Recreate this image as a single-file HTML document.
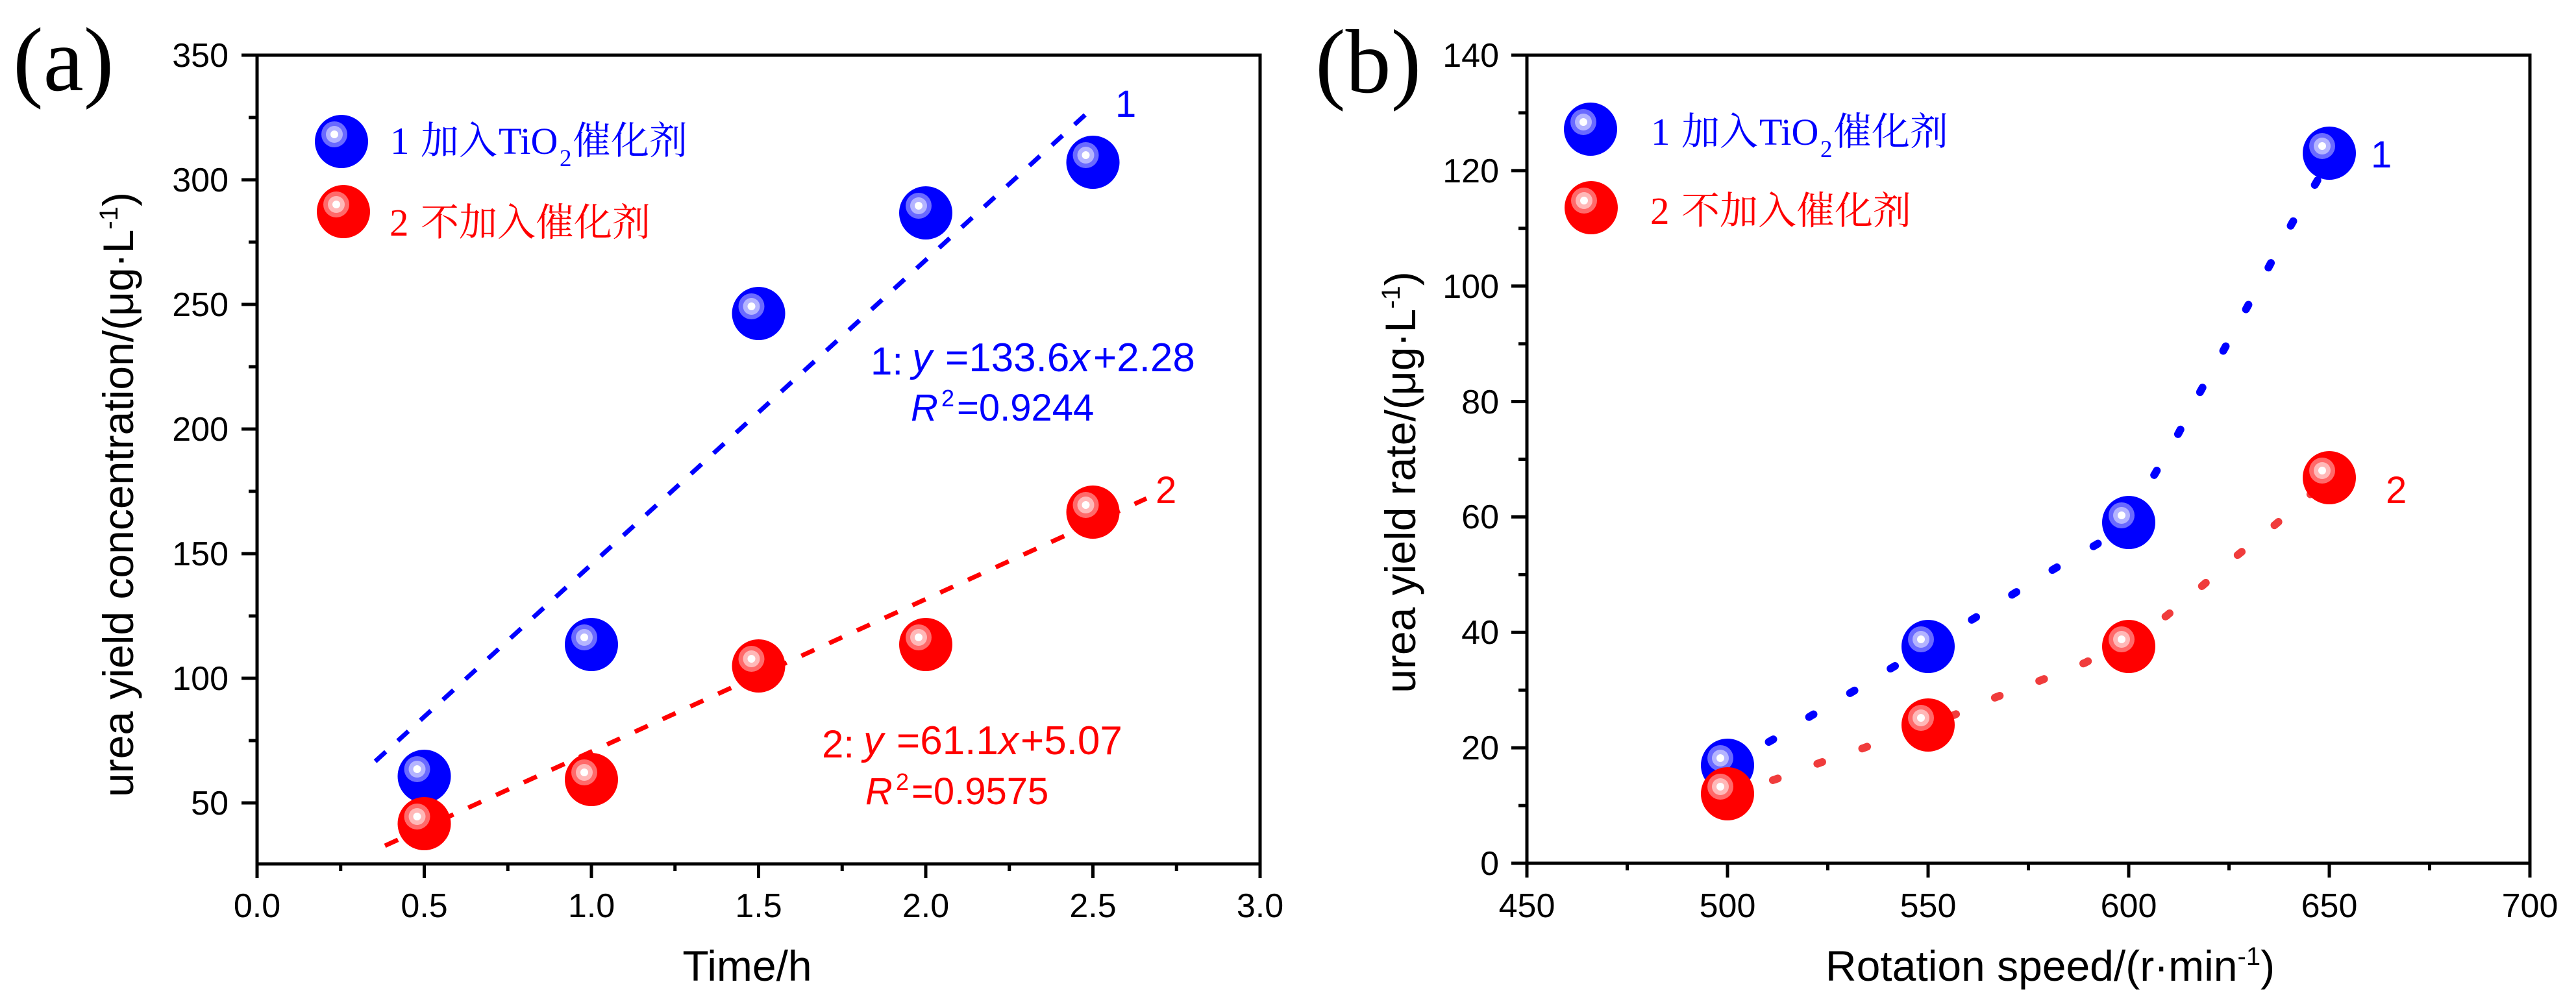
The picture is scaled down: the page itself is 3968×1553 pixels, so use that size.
<!DOCTYPE html>
<html><head><meta charset="utf-8"><style>
html,body{margin:0;padding:0;background:#fff;}
svg{display:block;}
text{font-family:"Liberation Sans",Arial,sans-serif;}
.tk{font-size:52px;fill:#000;}
.ser{font-family:"Liberation Serif","Noto Serif CJK SC",serif;}
.cjk{font-family:"Liberation Serif","Noto Serif CJK SC","Noto Sans CJK SC",serif;}
</style></head><body>
<svg width="3968" height="1553" viewBox="0 0 3968 1553" xmlns="http://www.w3.org/2000/svg">
<defs>
<g id="sb">
<circle r="41" fill="#0000ff"/>
<circle cx="-11" cy="-11" r="20" fill="#6a6aff"/>
<circle cx="-11" cy="-11" r="13" fill="#b4b4ff"/>
<circle cx="-11" cy="-11" r="6" fill="#ffffff"/>
</g>
<g id="sr">
<circle r="41" fill="#ff0000"/>
<circle cx="-11" cy="-11" r="20" fill="#ff6a6a"/>
<circle cx="-11" cy="-11" r="13" fill="#ffb8b8"/>
<circle cx="-11" cy="-11" r="6" fill="#ffffff"/>
</g>
</defs>
<rect width="3968" height="1553" fill="#fff"/>

<!-- ================= Panel (a) ================= -->
<text x="20" y="139" class="ser" font-size="140">(a)</text>

<g stroke="#000" stroke-width="5" fill="none">
<rect x="396" y="85" width="1545" height="1246"/>
<path d="M372 85H396M372 277H396M372 469H396M372 661H396M372 853H396M372 1045H396M372 1237H396"/>
<path d="M383 181H396M383 373H396M383 565H396M383 757H396M383 949H396M383 1141H396"/>
<path d="M396 1331V1353M653.5 1331V1353M911 1331V1353M1168.5 1331V1353M1426 1331V1353M1683.5 1331V1353M1941 1331V1353"/>
<path d="M524.75 1331V1342M782.25 1331V1342M1039.75 1331V1342M1297.25 1331V1342M1554.75 1331V1342M1812.25 1331V1342"/>
</g>

<g class="tk" text-anchor="end">
<text x="352" y="103">350</text>
<text x="352" y="295">300</text>
<text x="352" y="487">250</text>
<text x="352" y="679">200</text>
<text x="352" y="871">150</text>
<text x="352" y="1063">100</text>
<text x="352" y="1255">50</text>
</g>
<g class="tk" text-anchor="middle">
<text x="396" y="1413">0.0</text>
<text x="653.5" y="1413">0.5</text>
<text x="911" y="1413">1.0</text>
<text x="1168.5" y="1413">1.5</text>
<text x="1426" y="1413">2.0</text>
<text x="1683.5" y="1413">2.5</text>
<text x="1941" y="1413">3.0</text>
</g>

<text transform="translate(205,762) rotate(-90)" text-anchor="middle" font-size="66">urea yield concentration/(μg·L<tspan font-size="40" dy="-24">-1</tspan><tspan dy="24">)</tspan></text>
<text x="1151" y="1511" text-anchor="middle" font-size="66">Time/h</text>

<line x1="578" y1="1173" x2="1688" y2="162" stroke="#0000ff" stroke-width="7" stroke-dasharray="22 25"/>
<line x1="593" y1="1303" x2="1766" y2="768" stroke="#ff0000" stroke-width="7" stroke-dasharray="22 25"/>

<use href="#sb" x="653.5" y="1196"/>
<use href="#sb" x="911" y="993"/>
<use href="#sb" x="1168.5" y="483"/>
<use href="#sb" x="1426" y="328"/>
<use href="#sb" x="1683.5" y="250"/>
<use href="#sr" x="653.5" y="1269"/>
<use href="#sr" x="911" y="1201"/>
<use href="#sr" x="1168.5" y="1026"/>
<use href="#sr" x="1426" y="993"/>
<use href="#sr" x="1683.5" y="789"/>

<use href="#sb" x="526" y="218"/>
<use href="#sr" x="529" y="326"/>
<text class="cjk" font-size="59" fill="#0000ff" y="237"><tspan x="601">1</tspan><tspan x="648">加入</tspan><tspan x="768" font-size="58">TiO</tspan><tspan x="862" font-size="37" dy="19">2</tspan><tspan x="882" dy="-19">催化剂</tspan></text>
<text class="cjk" font-size="59" fill="#ff0000" y="363"><tspan x="600">2</tspan><tspan x="648">不加入催化剂</tspan></text>

<text x="1718" y="180" font-size="58" fill="#0000ff">1</text>
<text x="1780" y="775" font-size="58" fill="#ff0000">2</text>

<g fill="#0000ff">
<text x="1341" y="577" font-size="60">1:</text>
<text y="572" font-size="62"><tspan x="1405" font-style="italic">y</tspan><tspan x="1456">=133.6</tspan><tspan x="1648" font-style="italic">x</tspan><tspan x="1684">+2.28</tspan></text>
<text y="648" font-size="58"><tspan x="1403" font-style="italic">R</tspan><tspan x="1450" font-size="36" dy="-22">2</tspan><tspan x="1474" dy="22">=0.9244</tspan></text>
</g>
<g fill="#ff0000">
<text x="1266" y="1167" font-size="60">2:</text>
<text y="1162" font-size="62"><tspan x="1330" font-style="italic">y</tspan><tspan x="1381">=61.1</tspan><tspan x="1538" font-style="italic">x</tspan><tspan x="1572">+5.07</tspan></text>
<text y="1239" font-size="58"><tspan x="1333" font-style="italic">R</tspan><tspan x="1380" font-size="36" dy="-22">2</tspan><tspan x="1404" dy="22">=0.9575</tspan></text>
</g>

<!-- ================= Panel (b) ================= -->
<text x="2026" y="142" class="ser" font-size="140">(b)</text>

<g stroke="#000" stroke-width="5" fill="none">
<rect x="2352" y="85" width="1545" height="1245"/>
<path d="M2328 85H2352M2328 262.9H2352M2328 440.7H2352M2328 618.6H2352M2328 796.4H2352M2328 974.3H2352M2328 1152.1H2352M2328 1330H2352"/>
<path d="M2339 173.9H2352M2339 351.8H2352M2339 529.7H2352M2339 707.5H2352M2339 885.4H2352M2339 1063.2H2352M2339 1241.1H2352"/>
<path d="M2352 1330V1352M2661 1330V1352M2970 1330V1352M3279 1330V1352M3588 1330V1352M3897 1330V1352"/>
<path d="M2506.5 1330V1341M2815.5 1330V1341M3124.5 1330V1341M3433.5 1330V1341M3742.5 1330V1341"/>
</g>

<g class="tk" text-anchor="end">
<text x="2309" y="103">140</text>
<text x="2309" y="281">120</text>
<text x="2309" y="459">100</text>
<text x="2309" y="637">80</text>
<text x="2309" y="814">60</text>
<text x="2309" y="992">40</text>
<text x="2309" y="1170">20</text>
<text x="2309" y="1348">0</text>
</g>
<g class="tk" text-anchor="middle">
<text x="2352" y="1413">450</text>
<text x="2661" y="1413">500</text>
<text x="2970" y="1413">550</text>
<text x="3279" y="1413">600</text>
<text x="3588" y="1413">650</text>
<text x="3897" y="1413">700</text>
</g>

<text transform="translate(2180,743) rotate(-90)" text-anchor="middle" font-size="66">urea yield rate/(μg·L<tspan font-size="40" dy="-24">-1</tspan><tspan dy="24">)</tspan></text>
<text x="3158" y="1511" text-anchor="middle" font-size="66">Rotation speed/(r·min<tspan font-size="40" dy="-24">-1</tspan><tspan dy="24">)</tspan></text>

<polyline fill="none" stroke="#0000ff" stroke-width="12" stroke-linecap="round" stroke-dasharray="8 65" points="2661,1179 2730,1140 2791,1102 2853,1066 2914,1029 2970,996 3042,952 3103,914 3165,876 3231,838 3279,795 3320,729 3356,667 3390,602 3426,538 3461,474 3496,409 3530,345 3568,281 3588,245"/>
<polyline fill="none" stroke="#f03c3c" stroke-width="12" stroke-linecap="round" stroke-dasharray="8 65" points="2661,1223 2734,1201 2804,1175 2872,1152 2970,1114 3009,1102 3075,1074 3144,1048 3212,1021 3279,985 3337,949 3393,902 3447,855 3505,808 3556,764 3588,736"/>

<use href="#sb" x="2661" y="1179"/>
<use href="#sb" x="2970" y="996"/>
<use href="#sb" x="3279" y="805"/>
<use href="#sb" x="3588" y="236"/>
<use href="#sr" x="2661" y="1223"/>
<use href="#sr" x="2970" y="1117"/>
<use href="#sr" x="3279" y="996"/>
<use href="#sr" x="3588" y="736"/>

<use href="#sb" x="2450" y="199"/>
<use href="#sr" x="2451" y="320"/>
<text class="cjk" font-size="59" fill="#0000ff" y="223"><tspan x="2543">1</tspan><tspan x="2590">加入</tspan><tspan x="2710" font-size="58">TiO</tspan><tspan x="2804" font-size="37" dy="19">2</tspan><tspan x="2824" dy="-19">催化剂</tspan></text>
<text class="cjk" font-size="59" fill="#ff0000" y="345"><tspan x="2542">2</tspan><tspan x="2590">不加入催化剂</tspan></text>

<text x="3652" y="258" font-size="58" fill="#0000ff">1</text>
<text x="3675" y="775" font-size="58" fill="#ff0000">2</text>
</svg>
</body></html>
